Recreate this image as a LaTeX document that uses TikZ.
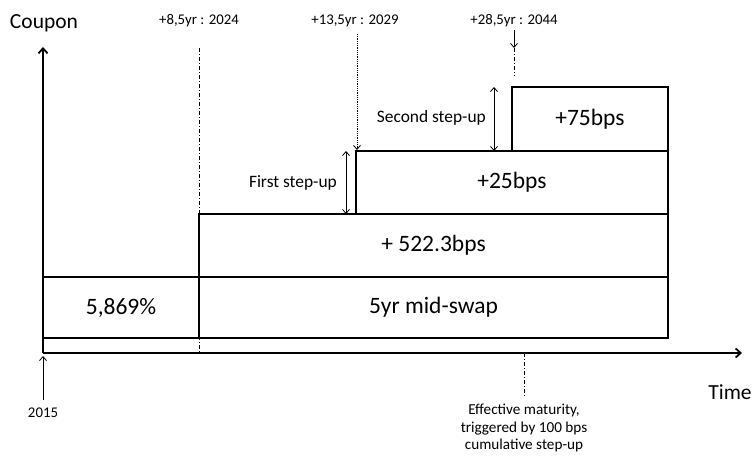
\documentclass[tikz,border=0pt]{standalone}
\usepackage{fontspec}
\setmainfont{Carlito}
\usetikzlibrary{arrows.meta}
\begin{document}
\begin{tikzpicture}[x=1pt,y=-1pt,
  box/.style={draw=black, line width=2pt, rectangle, inner sep=0pt, font=\fontsize{23.5}{26}\selectfont},
  axis/.style={line width=1.8pt, -{Straight Barb[length=5pt,width=9pt,line width=1.8pt]}},
  thinarrow/.style={line width=0.8pt, -{Straight Barb[length=4pt,width=7pt]}},
  dbl/.style={line width=0.8pt, {Straight Barb[length=4pt,width=7pt]}-{Straight Barb[length=4pt,width=7pt]}},
  dashdot/.style={line width=0.8pt, dash pattern=on 4pt off 2pt on 1pt off 2pt},
  tick/.style={font=\fontsize{14.8}{17}\selectfont, inner sep=1pt},
  big/.style={font=\fontsize{21.5}{24}\selectfont, inner sep=1pt},
  mid/.style={font=\fontsize{17.4}{20}\selectfont, inner sep=1pt},
  small/.style={font=\fontsize{15.2}{17.5}\selectfont, align=center, inner sep=1pt}
]
\useasboundingbox (0,0) rectangle (754,455);

% axes
\coordinate (O) at (43,353);
\coordinate (ytop) at (43,47);
\coordinate (xend) at (742,353);
\draw[axis] (O) -- (ytop);
\draw[axis] (O) -- (xend);

% boxes
\node[box, minimum width=156pt, minimum height=61pt] (b1) at (121,307.5) {5,869\%};
\node[box, minimum width=469pt, minimum height=61pt] (b2) at (433.5,307.5) {5yr mid-swap};
\node[box, minimum width=469pt, minimum height=63pt] (b3) at (433.5,245.5) {+ 522.3bps};
\node[box, minimum width=312pt, minimum height=63pt] (b4) at (512,182.5) {+25bps};
\node[box, minimum width=156pt, minimum height=64pt] (b5) at (590,119) {+75bps};

% axis labels
\node[big] (coupon) at (44,23) {Coupon};
\node[big] (time) at (730,392) {Time};

% tick labels
\node[tick] (t1) at (199,21) {+8,5yr : 2024};
\node[tick] (t2) at (355,21) {+13,5yr : 2029};
\node[tick] (t3) at (514,21) {+28,5yr : 2044};

% +8,5 dash-dot line
\coordinate (d1top) at (199,48);
\coordinate (d1bot) at (199,353);
\draw[dashdot] (d1top) -- (d1bot);

% +13,5 dotted arrow
\coordinate (d2top) at (357,34);
\coordinate (d2bot) at (357,150);
\draw[thinarrow, densely dotted] (d2top) -- (d2bot);

% +28,5 arrow then dash-dot
\coordinate (d3top) at (514,30);
\coordinate (d3mid) at (514,48);
\coordinate (d3bot) at (514,76);
\draw[thinarrow] (d3top) -- (d3mid);
\draw[dashdot] (d3mid) -- (d3bot);

% step-up arrows
\coordinate (s1a) at (346,151);
\coordinate (s1b) at (346,214);
\draw[dbl] (s1a) -- (s1b);
\node[mid, anchor=east] (s1lab) at (338,183) {First step-up};

\coordinate (s2a) at (494,87);
\coordinate (s2b) at (494,151);
\draw[dbl] (s2a) -- (s2b);
\node[mid, anchor=east] (s2lab) at (487,118) {Second step-up};

% 2015
\coordinate (y15) at (43,400);
\coordinate (y15tip) at (43,356);
\draw[thinarrow] (y15) -- (y15tip);
\node[tick] (l2015) at (43,413) {2015};

% effective maturity
\coordinate (e1) at (524,353);
\coordinate (e2) at (524,396);
\draw[dashdot] (e1) -- (e2);
\node[small, anchor=north] (eff) at (524,403) {Effective maturity,\\triggered by 100 bps\\cumulative step-up};
\end{tikzpicture}
\end{document}
